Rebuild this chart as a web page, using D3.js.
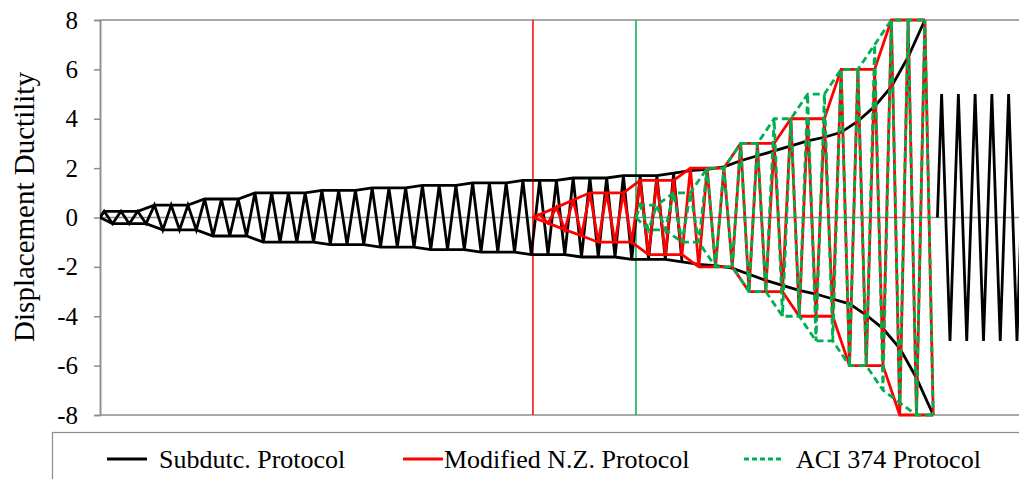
<!DOCTYPE html>
<html>
<head>
<meta charset="utf-8">
<script src="https://cdn.jsdelivr.net/npm/d3@7"></script>
<style>
  body { margin: 0; background: #fff; }
  svg { display: block; }
</style>
</head>
<body>
<div class="canvas"></div>
<script>
// amplitudes per cycle: peak at n + 0.25, trough at n + 0.75
const blackUpper = [0.25, 0.25, 0.25, 0.5, 0.5, 0.5, 0.75, 0.75, 0.75, 1, 1, 1, 1,
  1.1, 1.1, 1.1, 1.2, 1.2, 1.2, 1.3, 1.3, 1.3, 1.4, 1.4, 1.4, 1.5, 1.5, 1.5,
  1.6, 1.6, 1.6, 1.7, 1.7, 1.7, 1.8,
  1.9, 1.95, 2.05, 2.3, 2.5, 2.7, 2.9, 3.1, 3.25, 3.45, 3.9, 4.5, 5.3, 6.5, 8];
const blackLower = [-0.25, -0.25, -0.25, -0.5, -0.5, -0.5, -0.75, -0.75, -0.75, -1, -1, -1, -1,
  -1.1, -1.1, -1.1, -1.2, -1.2, -1.2, -1.3, -1.3, -1.3, -1.4, -1.4, -1.4, -1.5, -1.5, -1.5,
  -1.6, -1.6, -1.6, -1.7, -1.7, -1.7, -1.8,
  -1.9, -1.95, -2.05, -2.3, -2.55, -2.75, -2.95, -3.1, -3.3, -3.5, -3.95, -4.5, -5.3, -6.5, -8];
const blackZigzagCycles = 35;
const blackTailStart = 50;
const blackTail = [5, 5, 5, 5, 5];

const redStart = 25.85;
const redFirstCycle = 26;
const redUpper = [0.12, 0.41, 0.71, 1, 1, 1, 1.5, 1.5, 1.5, 2, 2, 2, 3, 3, 3, 4, 4, 4, 6, 6, 6, 8, 8, 8];
const redLower = [-0.23, -0.49, -0.74, -1, -1, -1, -1.5, -1.5, -1.5, -2, -2, -2, -3, -3, -3, -4, -4, -4, -6, -6, -6, -8, -8, -8];

const greenStart = 32;
const greenFirstCycle = 32;
const greenUpper = [0.5, 0.5, 1, 1, 2, 2, 3, 3, 4, 4, 5, 5, 6, 6, 7, 8, 8, 8];
const greenLower = [-0.5, -0.5, -1, -1, -2, -2, -3, -3, -4, -4, -5, -5, -6, -6, -7, -7.5, -8, -8];

const yTicks = [-8, -6, -4, -2, 0, 2, 4, 6, 8];
const seriesNames = ['Subdutc. Protocol', 'Modified N.Z. Protocol', 'ACI 374 Protocol'];
const seriesColors = ['#000000', '#ff0000', '#00b050'];

const width = 1019, height = 479;
const serif = '"Liberation Serif", "Times New Roman", serif';
const svg = d3.select('.canvas').append('svg')
    .attr('width', width)
    .attr('height', height);

const x = d3.scaleLinear().domain([0, 54.87]).range([100, 1019]);
const y = d3.scaleLinear().domain([-8, 8]).range([415, 20]);

svg.append('clipPath').attr('id', 'plotclip')
  .append('rect')
    .attr('x', 100).attr('y', 0)
    .attr('width', 919).attr('height', 430);

// plot frame + zero line
svg.append('rect')
    .attr('x', 100.5).attr('y', y(8))
    .attr('width', 930).attr('height', y(-8) - y(8))
    .attr('fill', 'none')
    .attr('stroke', '#8c8c8c')
    .attr('stroke-width', 1.5);
svg.append('line')
    .attr('x1', 100).attr('x2', 1019)
    .attr('y1', y(0)).attr('y2', y(0))
    .attr('stroke', '#8c8c8c')
    .attr('stroke-width', 1.5);

// y axis
const yAxis = svg.append('g')
    .attr('transform', 'translate(100,0)')
    .call(d3.axisLeft(y).tickValues(yTicks).tickSize(6).tickPadding(16).tickFormat(d => String(d)));
yAxis.select('.domain').attr('stroke', '#8c8c8c').attr('stroke-width', 1.5);
yAxis.selectAll('.tick line').attr('stroke', '#8c8c8c').attr('stroke-width', 1.5);
yAxis.selectAll('.tick text')
    .attr('fill', '#000')
    .style('font-family', serif)
    .style('font-size', '25px');

svg.append('text')
    .attr('transform', 'translate(34,207) rotate(-90)')
    .attr('text-anchor', 'middle')
    .style('font-family', serif)
    .style('font-size', '29px')
    .text('Displacement Ductility');

// vertical start markers
svg.append('line')
    .attr('x1', x(redStart)).attr('x2', x(redStart))
    .attr('y1', y(8)).attr('y2', y(-8))
    .attr('stroke', seriesColors[1]).attr('stroke-width', 1.5);
svg.append('line')
    .attr('x1', x(greenStart)).attr('x2', x(greenStart))
    .attr('y1', y(8)).attr('y2', y(-8))
    .attr('stroke', seriesColors[2]).attr('stroke-width', 1.5);

function zigzag(start, first, up, low, count) {
  const pts = [[start, 0]];
  for (let i = 0; i < count; i++) {
    pts.push([first + i + 0.25, up[i]]);
    pts.push([first + i + 0.75, low[i]]);
  }
  return pts;
}
function envelope(start, first, vals, offset) {
  const pts = [[start, 0]];
  vals.forEach((v, i) => pts.push([first + i + offset, v]));
  return pts;
}

const line = d3.line().x(d => x(d[0])).y(d => y(d[1]));
const plot = svg.append('g').attr('clip-path', 'url(#plotclip)');

function draw(pts, color, dashed) {
  plot.append('path')
      .attr('d', line(pts))
      .attr('fill', 'none')
      .attr('stroke', color)
      .attr('stroke-width', 2.8)
      .attr('stroke-linejoin', 'miter')
      .attr('stroke-dasharray', dashed ? '7,4' : null);
}

// black protocol
draw(zigzag(0, 0, blackUpper, blackLower, blackZigzagCycles), seriesColors[0]);
draw(envelope(0, 0, blackUpper, 0.25), seriesColors[0]);
draw(envelope(0, 0, blackLower, 0.75), seriesColors[0]);
const tailPts = zigzag(blackTailStart, blackTailStart, blackTail, blackTail.map(v => -v), blackTail.length);
tailPts.push([blackTailStart + blackTail.length + 0.25, blackTail[0]]);
draw(tailPts, seriesColors[0]);

// red protocol
draw(zigzag(redStart, redFirstCycle, redUpper, redLower, redUpper.length), seriesColors[1]);
draw(envelope(redStart, redFirstCycle, redUpper, 0.25), seriesColors[1]);
draw(envelope(redStart, redFirstCycle, redLower, 0.75), seriesColors[1]);

// green protocol
draw(zigzag(greenStart, greenFirstCycle, greenUpper, greenLower, greenUpper.length), seriesColors[2], true);
draw(envelope(greenStart, greenFirstCycle, greenUpper, 0.25), seriesColors[2], true);
draw(envelope(greenStart, greenFirstCycle, greenLower, 0.75), seriesColors[2], true);

// legend
svg.append('rect')
    .attr('x', 52.5).attr('y', 432.5)
    .attr('width', 1000).attr('height', 100)
    .attr('fill', 'none')
    .attr('stroke', '#8c8c8c')
    .attr('stroke-width', 1.2);

const legendX = [107, 403, 744];
const legend = svg.append('g');
seriesNames.forEach((name, i) => {
  legend.append('line')
      .attr('x1', legendX[i]).attr('x2', legendX[i] + 40)
      .attr('y1', 459).attr('y2', 459)
      .attr('stroke', seriesColors[i])
      .attr('stroke-width', 2.8)
      .attr('stroke-dasharray', i === 2 ? '5,3' : null);
  legend.append('text')
      .attr('x', legendX[i] + (i === 1 ? 41 : 52))
      .attr('y', 468)
      .style('font-family', serif)
      .style('font-size', '26px')
      .text(name);
});
</script>
</body>
</html>
